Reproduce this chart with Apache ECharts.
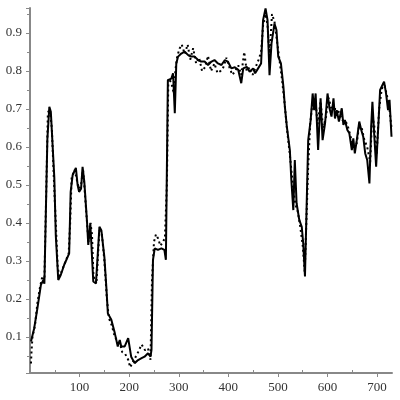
<!DOCTYPE html>
<html>
<head>
<meta charset="utf-8">
<script src="https://cdn.jsdelivr.net/npm/echarts@6/dist/echarts.min.js"></script>
<style>html,body{margin:0;padding:0;background:#fff}#c{width:400px;height:400px}</style>
</head>
<body>
<div id="c"></div>
<script>
const xSolid = [2,8.5,15,22,27,29,35,39,42,49,52,57,62,69,76,79,82,86,92.5,96,99,103,106,109.5,115,117.5,121.6,124,127.6,133,140,144,150,154,157,164,171,177,181,184,191,198,204,211,218,225,231,238,243,245,248,251.5,258,265,271,274,278,285,288.5,292,295,298.6,305,312,319,325.6,332,339,345,352,359,366,372,379,386,393,399,406,413,420,426,430,437,443,450,454,460,466,470,475,479,483,487,493,497,500.6,506,511,514,518,524,527,531,534,537.6,543,548,551,554.5,556,561,566,570,573,576,581,586,590,595,600,604,608,612,615,618.6,623,628.7,632,635,640,644,649,652,655,659,664,668,672,676,680,684.5,688,690.5,694,698,703,706,709,714,718,722,725,729];
const ySolid = [0.088,0.123,0.176,0.237,0.25,0.24,0.62,0.706,0.693,0.52,0.368,0.25,0.263,0.29,0.311,0.32,0.482,0.526,0.545,0.5,0.482,0.49,0.548,0.509,0.403,0.342,0.399,0.395,0.246,0.241,0.39,0.38,0.31,0.23,0.162,0.145,0.11,0.075,0.092,0.075,0.075,0.097,0.048,0.031,0.039,0.044,0.048,0.057,0.048,0.066,0.303,0.333,0.329,0.333,0.329,0.303,0.776,0.78,0.794,0.689,0.82,0.838,0.846,0.851,0.842,0.838,0.838,0.829,0.825,0.825,0.816,0.825,0.829,0.82,0.816,0.829,0.825,0.807,0.81,0.803,0.768,0.807,0.811,0.798,0.807,0.794,0.807,0.82,0.934,0.965,0.934,0.789,0.873,0.925,0.908,0.838,0.82,0.759,0.706,0.653,0.592,0.513,0.434,0.566,0.452,0.408,0.39,0.346,0.259,0.257,0.618,0.671,0.741,0.697,0.741,0.592,0.728,0.618,0.662,0.741,0.702,0.68,0.728,0.675,0.697,0.667,0.702,0.658,0.671,0.645,0.636,0.592,0.623,0.583,0.618,0.667,0.645,0.627,0.583,0.566,0.504,0.653,0.719,0.636,0.548,0.671,0.75,0.745,0.772,0.741,0.697,0.724,0.627];
const xDotted = [2,3,5,10,15,20,25,29,33,36,40,44,48,52,56,60,66,72,78,81,84,90,95,99,103,107,110,115,118,122,125,128,134,140,145,150,155,159,165,171,176,181,186,192,198,202,206,212,218,225,232,238,243,246,250,254,258,263,268,272,276,279,285,290,293,297,302,306,312,318,323,329,335,341,347,353,359,365,372,378,384,390,396,402,408,414,420,426,432,437,443,449,455,461,466,470,475,479,483,488,493,498,503,508,513,518,524,530,535,540,545,550,554,558,561,565,570,575,580,586,591,597,602,608,613,618,624,630,636,642,648,653,659,664,669,674,680,686,690,694,699,704,709,714,719,724,729];
const yDotted = [0.03,0.06,0.1,0.13,0.19,0.23,0.26,0.25,0.5,0.69,0.7,0.65,0.52,0.4,0.28,0.26,0.28,0.3,0.32,0.4,0.52,0.54,0.51,0.49,0.5,0.54,0.49,0.4,0.35,0.4,0.37,0.26,0.24,0.38,0.37,0.3,0.2,0.15,0.13,0.1,0.09,0.085,0.06,0.055,0.04,0.02,0.03,0.045,0.06,0.08,0.065,0.07,0.04,0.25,0.35,0.37,0.36,0.34,0.35,0.36,0.5,0.78,0.77,0.74,0.8,0.84,0.86,0.87,0.845,0.87,0.83,0.86,0.82,0.835,0.8,0.81,0.84,0.8,0.82,0.795,0.8,0.81,0.835,0.81,0.79,0.8,0.815,0.79,0.85,0.8,0.81,0.79,0.81,0.83,0.85,0.92,0.95,0.92,0.84,0.95,0.93,0.88,0.83,0.78,0.72,0.65,0.58,0.5,0.45,0.43,0.39,0.34,0.27,0.27,0.55,0.66,0.72,0.73,0.66,0.72,0.65,0.68,0.73,0.7,0.7,0.7,0.69,0.67,0.67,0.65,0.62,0.6,0.61,0.66,0.65,0.62,0.6,0.56,0.68,0.66,0.58,0.7,0.75,0.77,0.74,0.71,0.65];

const pair = (xs, ys) => xs.map((x, i) => [x, ys[i]]);
const axisFont = {fontFamily: 'Liberation Serif', fontSize: 13, color: '#333'};
const chart = echarts.init(document.getElementById('c'), null, {renderer: 'canvas'});
chart.setOption({
  animation: false,
  grid: {left: 30, right: 8, top: 8, bottom: 27},
  xAxis: [{
    type: 'value', min: 0, max: 730, splitNumber: 7,
    axisLine: {lineStyle: {color: '#888', width: 2}},
    axisTick: {show: true, length: 4, lineStyle: {color: '#888'}},
    minorTick: {show: false},
    splitLine: {show: false},
    axisLabel: Object.assign({margin: 8, showMinLabel: false, showMaxLabel: false}, axisFont)
  }, {
    type: 'value', min: 0, max: 730, splitNumber: 7, position: 'bottom',
    axisLine: {show: false},
    axisTick: {show: false, inside: true},
    minorTick: {show: true, splitNumber: 2, length: 3, lineStyle: {color: '#888'}},
    splitLine: {show: false},
    axisLabel: {show: false}
  }],
  yAxis: {
    type: 'value', min: 0.005, max: 0.966, splitNumber: 10,
    axisLine: {show: true, lineStyle: {color: '#888', width: 2}},
    axisTick: {show: true, length: 4, lineStyle: {color: '#888'}},
    minorTick: {show: true, splitNumber: 2, length: 3, lineStyle: {color: '#888'}},
    splitLine: {show: false},
    axisLabel: Object.assign({margin: 8, showMinLabel: false, showMaxLabel: false, formatter: v => v.toFixed(1)}, axisFont)
  },
  series: [
    {type: 'line', xAxisIndex: 0, data: pair(xDotted, yDotted), showSymbol: false, symbol: 'none',
     lineStyle: {color: '#000', width: 2, type: [2, 3]}},
    {type: 'line', xAxisIndex: 0, data: pair(xSolid, ySolid), showSymbol: false, symbol: 'none',
     lineStyle: {color: '#000', width: 2}}
  ]
});
</script>
</body>
</html>
